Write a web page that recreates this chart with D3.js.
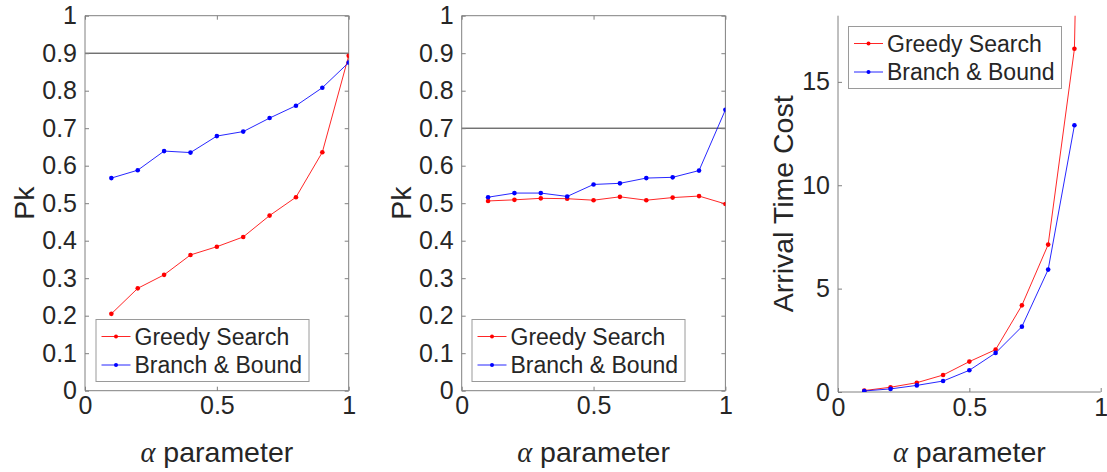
<!DOCTYPE html>
<html>
<head>
<meta charset="utf-8">
<script src="https://cdn.jsdelivr.net/npm/d3@7"></script>
<style>
  html, body { margin: 0; padding: 0; background: #fff; }
  svg { display: block; }
  text { font-family: "Liberation Sans", Arial, Helvetica, sans-serif; fill: #262626; }
</style>
</head>
<body>
<svg id="chart" width="1107" height="472"></svg>
<script>
// alpha values shared by all three panels
const alpha = [0.1, 0.2, 0.3, 0.4, 0.5, 0.6, 0.7, 0.8, 0.9, 1.0];

// Panel 1: detection probability Pk
const pkGreedyA = [0.205, 0.273, 0.309, 0.362, 0.384, 0.410, 0.467, 0.516, 0.636, 0.893];
const pkBranchA = [0.567, 0.588, 0.639, 0.635, 0.679, 0.691, 0.727, 0.760, 0.808, 0.875];
const thresholdA = 0.9;

// Panel 2: detection probability Pk
const pkGreedyB = [0.506, 0.509, 0.513, 0.512, 0.508, 0.517, 0.508, 0.515, 0.519, 0.498];
const pkBranchB = [0.516, 0.527, 0.527, 0.518, 0.550, 0.553, 0.567, 0.569, 0.587, 0.749];
const thresholdB = 0.7;

// Panel 3: arrival time cost (branch & bound has no result at alpha = 1)
const costGreedy = [0.07, 0.23, 0.45, 0.82, 1.47, 2.05, 4.19, 7.13, 16.6, 80];
const costBranch = [0.05, 0.15, 0.32, 0.53, 1.05, 1.89, 3.16, 5.92, 12.9, null];

const xTicks = [0, 0.5, 1];
const xTickLabels = ["0", "0.5", "1"];
const pkTicks = [0, 0.1, 0.2, 0.3, 0.4, 0.5, 0.6, 0.7, 0.8, 0.9, 1];
const pkTickLabels = ["0", "0.1", "0.2", "0.3", "0.4", "0.5", "0.6", "0.7", "0.8", "0.9", "1"];
const costTicks = [0, 5, 10, 15];
const costTickLabels = ["0", "5", "10", "15"];
const seriesNames = ["Greedy Search", "Branch & Bound"];
const seriesColors = ["#ff0000", "#0000ff"];
const xLabel = "parameter";

const svg = d3.select("#chart");
const AXIS = "#808080";
const TICK_FONT = 25, LABEL_FONT = 28.5, LEGEND_FONT = 23;

function panel(cfg) {
  const x = d3.scaleLinear().domain([0, 1]).range([cfg.left, cfg.right]);
  const y = d3.scaleLinear().domain(cfg.yDomain).range([cfg.bottom, cfg.top]);
  const g = svg.append("g");

  const clipId = "clip" + cfg.id;
  svg.append("clipPath").attr("id", clipId)
    .append("rect")
    .attr("x", cfg.left).attr("y", cfg.top)
    .attr("width", cfg.right - cfg.left).attr("height", cfg.bottom - cfg.top);

  // threshold line
  if (cfg.threshold != null) {
    g.append("line")
      .attr("x1", x(0)).attr("x2", x(1))
      .attr("y1", y(cfg.threshold)).attr("y2", y(cfg.threshold))
      .attr("stroke", "#333").attr("stroke-width", 1);
  }

  // axes with inward ticks
  const bottomAxis = d3.axisBottom(x).tickValues(xTicks).tickSize(-4).tickFormat((d, i) => xTickLabels[i]).tickPadding(10);
  const leftAxis = d3.axisLeft(y).tickValues(cfg.yTicks).tickSize(-4).tickFormat((d, i) => cfg.yTickLabels[i]).tickPadding(8);

  const gx = g.append("g").attr("transform", `translate(0,${cfg.bottom})`).call(bottomAxis);
  const gy = g.append("g").attr("transform", `translate(${cfg.left},0)`).call(leftAxis);
  [gx, gy].forEach(a => {
    a.selectAll("path.domain").attr("stroke", AXIS).attr("stroke-width", 1);
    a.selectAll(".tick line").attr("stroke", AXIS).attr("stroke-width", 1);
    a.selectAll(".tick text").attr("font-size", TICK_FONT).attr("fill", "#262626")
      .attr("font-family", "Liberation Sans, Arial, sans-serif");
  });
  gx.select("path.domain").attr("d", `M${cfg.left},0H${cfg.right}`);
  gy.select("path.domain").attr("d", `M0,${cfg.bottom}V${cfg.top}`);
  gx.selectAll(".tick text").attr("dy", "0.55em");

  if (cfg.box) {
    const topAxis = d3.axisTop(x).tickValues(xTicks).tickSize(-4).tickFormat("");
    const rightAxis = d3.axisRight(y).tickValues(cfg.yTicks).tickSize(-4).tickFormat("");
    const gt = g.append("g").attr("transform", `translate(0,${cfg.top})`).call(topAxis);
    const gr = g.append("g").attr("transform", `translate(${cfg.right},0)`).call(rightAxis);
    [gt, gr].forEach(a => {
      a.selectAll("path.domain").attr("stroke", AXIS).attr("stroke-width", 1);
      a.selectAll(".tick line").attr("stroke", AXIS).attr("stroke-width", 1);
    });
    gt.select("path.domain").attr("d", `M${cfg.left},0H${cfg.right}`);
    gr.select("path.domain").attr("d", `M0,${cfg.bottom}V${cfg.top}`);
  }

  // series
  const plot = g.append("g").attr("clip-path", `url(#${clipId})`);
  cfg.series.forEach((vals, si) => {
    const pts = alpha.map((a, i) => [a, vals[i]]).filter(p => p[1] != null);
    const line = d3.line().x(p => x(p[0])).y(p => y(p[1]));
    plot.append("path").attr("d", line(pts))
      .attr("fill", "none").attr("stroke", seriesColors[si]).attr("stroke-width", 1)
      .attr("stroke-opacity", 0.85);
    plot.selectAll(null).data(pts).enter().append("circle")
      .attr("cx", p => x(p[0])).attr("cy", p => y(p[1])).attr("r", 2.3)
      .attr("fill", seriesColors[si]);
  });

  // axis labels
  const xl = g.append("text")
    .attr("x", (cfg.left + cfg.right) / 2).attr("y", 462)
    .attr("text-anchor", "middle").attr("font-size", LABEL_FONT);
  xl.append("tspan").attr("font-family", "Liberation Serif, DejaVu Serif, serif")
    .attr("font-style", "italic").text("α");
  xl.append("tspan").text(" " + xLabel);

  g.append("text")
    .attr("transform", `translate(${cfg.yLabelX},${(cfg.top + cfg.bottom) / 2}) rotate(-90)`)
    .attr("text-anchor", "middle").attr("font-size", LABEL_FONT)
    .text(cfg.yLabel);

  // legend
  const lg = g.append("g").attr("transform", `translate(${cfg.legend[0]},${cfg.legend[1]})`);
  lg.append("rect").attr("x", 0.5).attr("y", 0.5).attr("width", 213).attr("height", 62)
    .attr("fill", "#fff").attr("stroke", "#9a9a9a").attr("stroke-width", 1);
  seriesNames.forEach((name, i) => {
    const cy = 17.5 + i * 28.5;
    lg.append("line").attr("x1", 6).attr("x2", 35).attr("y1", cy).attr("y2", cy)
      .attr("stroke", seriesColors[i]).attr("stroke-width", 1).attr("stroke-opacity", 0.85);
    lg.append("circle").attr("cx", 20.5).attr("cy", cy).attr("r", 2).attr("fill", seriesColors[i]);
    lg.append("text").attr("x", 39).attr("y", cy).attr("dy", "0.36em")
      .attr("font-size", LEGEND_FONT).attr("fill", "#000").text(name);
  });
}

panel({
  id: 1, left: 85, right: 348.7, top: 15.7, bottom: 390.7,
  yDomain: [0, 1], yTicks: pkTicks, yTickLabels: pkTickLabels,
  threshold: thresholdA, box: true, yLabel: "Pk", yLabelX: 34,
  series: [pkGreedyA, pkBranchA], legend: [95.5, 319]
});

panel({
  id: 2, left: 461.7, right: 725.4, top: 15.7, bottom: 390.7,
  yDomain: [0, 1], yTicks: pkTicks, yTickLabels: pkTickLabels,
  threshold: thresholdB, box: true, yLabel: "Pk", yLabelX: 411,
  series: [pkGreedyB, pkBranchB], legend: [471.5, 319]
});

panel({
  id: 3, left: 838, right: 1100.7, top: 15.7, bottom: 392,
  yDomain: [0, 18.2], yTicks: costTicks, yTickLabels: costTickLabels,
  threshold: null, box: false, yLabel: "Arrival Time Cost", yLabelX: 793,
  series: [costGreedy, costBranch], legend: [848, 26]
});
</script>
</body>
</html>
